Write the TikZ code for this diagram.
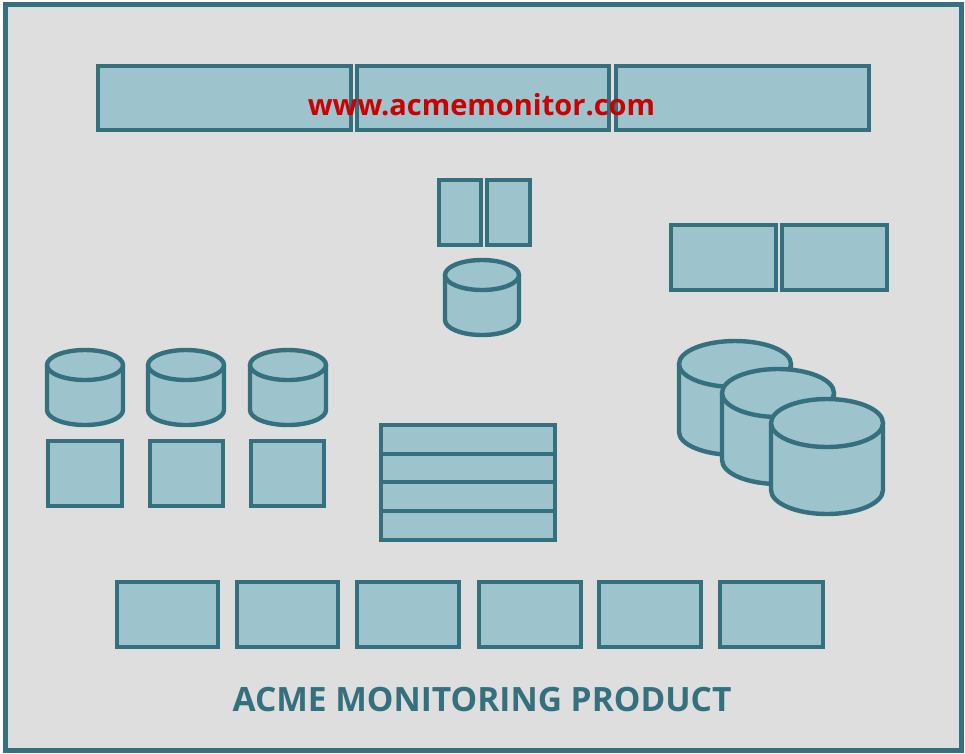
\documentclass[tikz,border=0pt]{standalone}
\usepackage{fontspec}
\setmainfont{Open Sans}
\definecolor{tealline}{HTML}{35707F}
\definecolor{tealfill}{HTML}{9DC3CC}
\definecolor{panel}{HTML}{DEDEDE}
\tikzset{
  panelbox/.style={draw=tealline,fill=tealfill,line width=4.4pt,inner sep=0pt,outer sep=0pt,anchor=north west},
  cylpart/.style={draw=tealline,fill=tealfill,line width=4.4pt,line join=round},
  webtext/.style={text=red!80!black,font=\bfseries\fontsize{29}{32}\selectfont,inner sep=0pt},
  titletext/.style={text=tealline,font=\bfseries\fontsize{33.5}{36}\selectfont,inner sep=0pt}
}
% name, x1, y1, x2, y2 (pixel centre lines)
\newcommand{\pbox}[5]{%
  \pgfmathsetmacro{\pbw}{#4-#2}\pgfmathsetmacro{\pbh}{#5-#3}%
  \node[panelbox,minimum width=\pbw pt,minimum height=\pbh pt] (#1) at (#2,#3) {};}
% centre x, top-ellipse centre y, rx, ry, body height
\newcommand{\pcyl}[5]{%
  \draw[cylpart] (#1-#3,#2) -- (#1-#3,#2+#5) arc[start angle=180,end angle=360,x radius=#3,y radius=-#4] -- (#1+#3,#2) -- cycle;
  \draw[cylpart] (#1,#2) ellipse[x radius=#3,y radius=#4];}
\begin{document}
\begin{tikzpicture}[x=1pt,y=-1pt]
\useasboundingbox (0,0) rectangle (965,753);
\fill[white] (0,0) rectangle (965,753);
\draw[draw=tealline,fill=panel,line width=5pt] (5,4) rectangle (961,750);
\pbox{t1}{98}{66}{351}{130}
\pbox{t2}{357}{66}{609}{130}
\pbox{t3}{616}{66}{869}{130}
\pbox{m1}{439}{180}{481}{245}
\pbox{m2}{487}{180}{530}{245}
\pbox{r1}{671}{225}{776}{290}
\pbox{r2}{782}{225}{887}{290}
\pcyl{482}{275}{37}{15}{45}
\pcyl{85}{365}{38}{15}{45}
\pcyl{186}{365}{38}{15}{45}
\pcyl{288}{365}{38}{15}{45}
\pbox{s1}{48}{441}{122}{506}
\pbox{s2}{150}{441}{223}{506}
\pbox{s3}{251}{441}{324}{506}
\pbox{k1}{381}{425}{555}{454}
\pbox{k2}{381}{454}{555}{482}
\pbox{k3}{381}{482}{555}{511}
\pbox{k4}{381}{511}{555}{540}
\pcyl{735}{364}{56}{23}{68}
\pcyl{778}{393}{56}{24}{67}
\pcyl{827}{423}{56}{24}{67}
\pbox{b1}{117}{582}{218}{647}
\pbox{b2}{237}{582}{338}{647}
\pbox{b3}{357}{582}{459}{647}
\pbox{b4}{479}{582}{581}{647}
\pbox{b5}{599}{582}{701}{647}
\pbox{b6}{720}{582}{823}{647}
\node[webtext] (web) at (481.5,105) {www.acmemonitor.com};
\node[titletext] (title) at (482,700) {ACME MONITORING PRODUCT};
\end{tikzpicture}
\end{document}
